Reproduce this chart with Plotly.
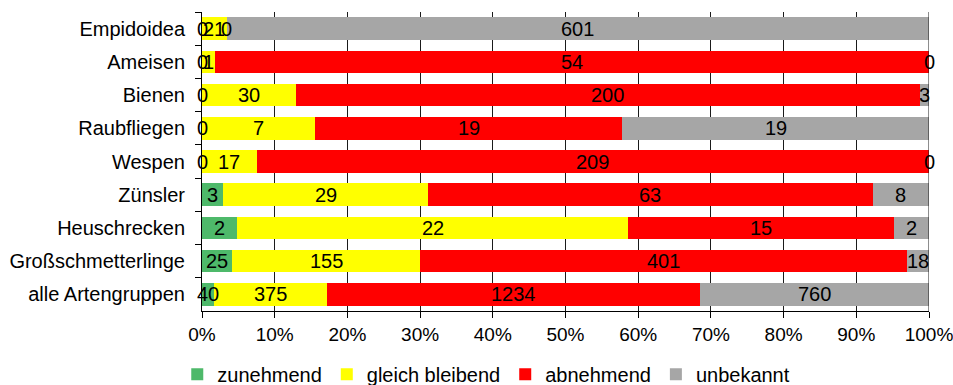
import plotly.graph_objects as go

# Artengruppen, top to bottom
gruppen = ["Empidoidea", "Ameisen", "Bienen", "Raubfliegen", "Wespen",
           "Zünsler", "Heuschrecken", "Großschmetterlinge", "alle Artengruppen"]

# Anzahl Arten je Bestandstrend
zunehmend = [0, 0, 0, 0, 0, 3, 2, 25, 40]
gleich_bleibend = [21, 1, 30, 7, 17, 29, 22, 155, 375]
abnehmend = [0, 54, 200, 19, 209, 63, 15, 401, 1234]
unbekannt = [601, 0, 3, 19, 0, 8, 2, 18, 760]

serien = [
    ("zunehmend", zunehmend, "#4eb96a"),
    ("gleich bleibend", gleich_bleibend, "#ffff00"),
    ("abnehmend", abnehmend, "#ff0000"),
    ("unbekannt", unbekannt, "#a6a6a6"),
]

x_ticks = list(range(0, 101, 10))
x_labels = [f"{v}%" for v in x_ticks]

FONT = "Liberation Sans, Arial, sans-serif"
FS = 20
GRID = "#1a1a1a"

totals = [sum(s[1][i] for s in serien) for i in range(len(gruppen))]

fig = go.Figure()
annotations = []
start = [0.0] * len(gruppen)
for name, counts, color in serien:
    pct = [100.0 * c / t for c, t in zip(counts, totals)]
    fig.add_trace(go.Bar(
        y=gruppen, x=pct, name=name, orientation="h",
        marker=dict(color=color, line=dict(width=0)),
        hoverinfo="skip",
    ))
    for i, (c, p) in enumerate(zip(counts, pct)):
        annotations.append(dict(
            x=start[i] + p / 2, y=gruppen[i], xref="x", yref="y",
            text=str(c), showarrow=False,
            font=dict(family=FONT, size=FS, color="#000000"),
        ))
        start[i] += p

fig.update_layout(
    barmode="stack",
    bargap=0.32,
    width=953, height=385,
    margin=dict(l=202, r=24, t=12, b=74, autoexpand=False),
    paper_bgcolor="white", plot_bgcolor="white",
    font=dict(family=FONT, size=FS, color="#000000"),
    annotations=annotations,
    legend=dict(
        orientation="h", xref="container", yref="container",
        x=0.186, y=0.028, xanchor="left", yanchor="middle",
        font=dict(family=FONT, size=FS, color="#000000"),
        traceorder="normal", itemclick=False,
    ),
    showlegend=True,
    # gridline at the 100% edge of the scale
    shapes=[dict(type="line", xref="x", yref="paper", x0=x_ticks[-1], x1=x_ticks[-1],
                 y0=0, y1=1, line=dict(color=GRID, width=1), layer="above")],
)

fig.update_xaxes(
    range=[0, 100], tickvals=x_ticks, ticktext=x_labels,
    tickfont=dict(family=FONT, size=19, color="#000000"),
    showgrid=True, gridcolor=GRID, gridwidth=1,
    showline=True, linecolor="#000000", linewidth=1,
    ticks="outside", ticklen=6, tickcolor="#000000",
    ticklabeloverflow="allow", automargin=False,
    zeroline=False, fixedrange=True,
)
fig.update_yaxes(
    type="category", autorange="reversed",
    tickson="boundaries", ticks="outside", ticklen=6, tickcolor="#000000",
    showline=True, linecolor="#000000", linewidth=1,
    showgrid=False, ticklabelstandoff=12, automargin=False, fixedrange=True,
)

fig.write_html("out.html")
